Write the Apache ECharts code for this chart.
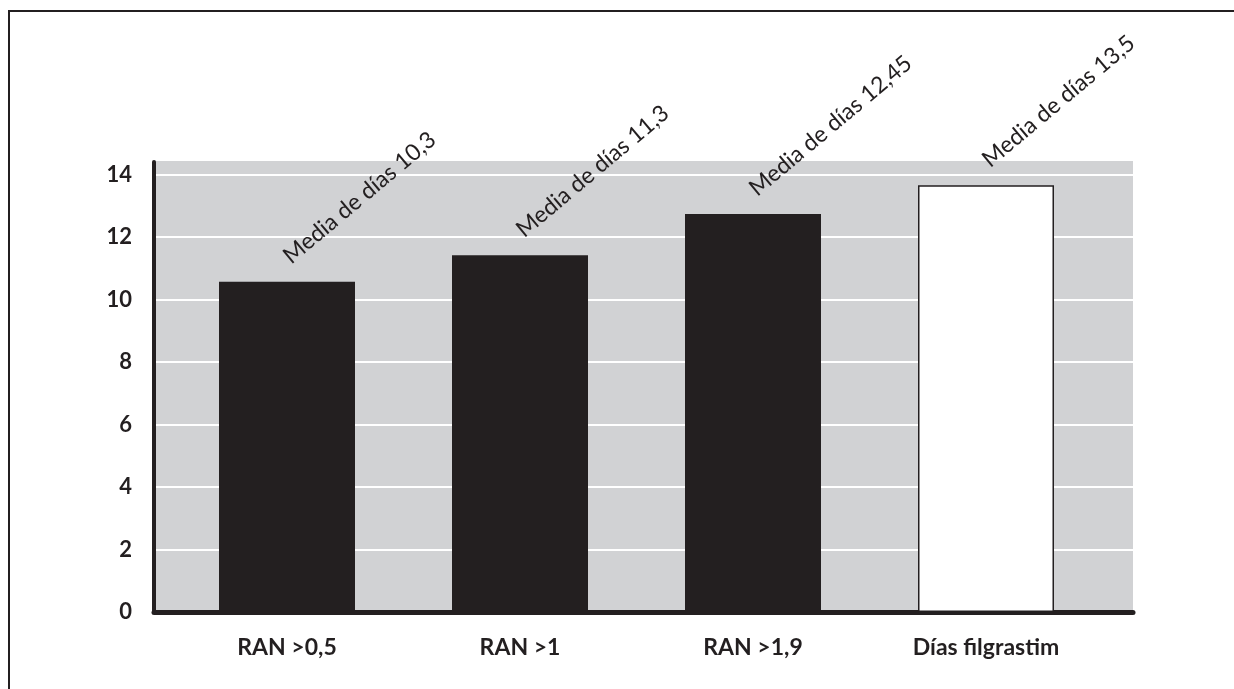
<!DOCTYPE html>
<html>
<head>
<meta charset="utf-8">
<script src="https://cdn.jsdelivr.net/npm/echarts@6/dist/echarts.min.js"></script>
<style>
html,body{margin:0;padding:0;background:#fff;overflow:hidden;}
#chart{position:absolute;left:0;top:0;width:1234px;height:689px;}
#frame{position:absolute;left:8px;top:10px;width:1400px;height:900px;border-left:2px solid #231f20;border-top:2px solid #231f20;pointer-events:none;}
</style>
</head>
<body>
<div id="chart"></div>
<div id="frame"></div>
<script>
// Data
const categories = ['RAN >0,5', 'RAN >1', 'RAN >1,9', 'Días filgrastim'];
const values = [10.57, 11.42, 12.74, 13.66];
const barLabels = ['Media de días 10,3', 'Media de días 11,3', 'Media de días 12,45', 'Media de días 13,5'];
const yTicks = [0, 2, 4, 6, 8, 10, 12, 14];

const DARK = '#231f20';
const GRAY = '#d1d2d4';
const FONT = 'Lato, "Open Sans", sans-serif';

const chart = echarts.init(document.getElementById('chart'));
const seriesData = values.map((v, i) => ({
  value: v,
  itemStyle: i === 3 ? { color: '#ffffff', borderColor: DARK, borderWidth: 1.5 } : { color: DARK },
  label: { formatter: barLabels[i] }
}));

chart.setOption({
  animation: false,
  grid: [
    { left: 154, right: 101, top: 162, bottom: 77, show: true, backgroundColor: GRAY, borderWidth: 0 },
    { left: 170.5, right: 131.5, top: 162, bottom: 77 }
  ],
  xAxis: [
    { gridIndex: 0, type: 'value', min: 0, max: 1,
      axisLine: { show: true, onZero: false, lineStyle: { color: DARK, width: 5 } },
      axisTick: { show: false }, axisLabel: { show: false }, splitLine: { show: false } },
    { gridIndex: 1, type: 'category', data: categories,
      axisLine: { show: false }, axisTick: { show: false },
      axisLabel: { color: DARK, fontFamily: FONT, fontWeight: 'bold', fontSize: 23, margin: 24 } }
  ],
  yAxis: [
    { gridIndex: 0, type: 'value', min: 0, max: 14.4, interval: 2,
      axisLine: { show: true, lineStyle: { color: DARK, width: 4 } },
      axisTick: { show: false },
      axisLabel: { color: DARK, fontFamily: FONT, fontWeight: 'bold', fontSize: 22, margin: 22,
        formatter: v => (yTicks.indexOf(v) >= 0 ? String(v) : '') },
      splitLine: { show: true, lineStyle: { width: 2,
        color: yTicks.map(() => '#ffffff').concat([GRAY]) } } },
    { gridIndex: 1, type: 'value', min: 0, max: 14.4, interval: 2, show: false, splitLine: { show: false } }
  ],
  series: [{
    type: 'bar', xAxisIndex: 1, yAxisIndex: 1, barWidth: 136,
    data: seriesData,
    label: { show: true, position: 'top', distance: 8, rotate: 40, align: 'left', verticalAlign: 'bottom',
      offset: [9, 0], color: DARK, fontFamily: FONT, fontSize: 23 }
  }]
});
</script>
</body>
</html>
